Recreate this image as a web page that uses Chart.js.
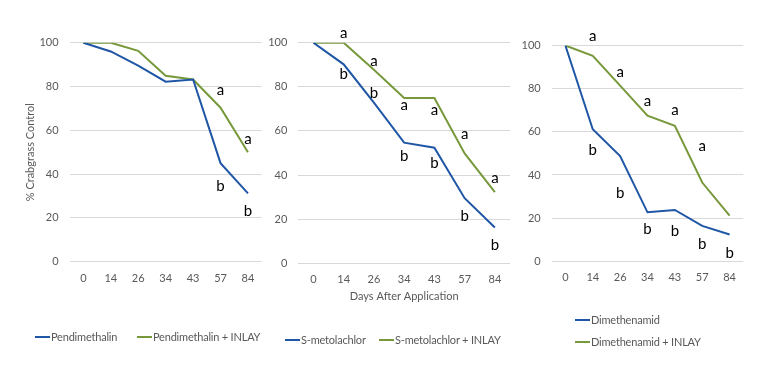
<!DOCTYPE html>
<html>
<head>
<meta charset="utf-8">
<script src="https://cdn.jsdelivr.net/npm/chart.js@4.4.1/dist/chart.umd.min.js"></script>
<style>
  html, body { margin: 0; padding: 0; background: #ffffff; }
  #wrap { position: relative; width: 768px; height: 375px; overflow: hidden; background: #fff; }
  canvas { position: absolute; top: 0; }
  .lg { position: absolute; font-family: Lato, "Noto Sans", sans-serif; font-size: 11px; letter-spacing: -0.2px; color: #595959; white-space: nowrap; display: flex; align-items: center; height: 14px; line-height: 14px; }
  .lg i { display: inline-block; width: 15px; height: 2px; margin-right: 1px; }
</style>
</head>
<body>
<div id="wrap">
  <canvas id="c1" width="265" height="375" style="left:0px;width:265px;height:375px"></canvas>
  <canvas id="c2" width="250" height="375" style="left:265px;width:250px;height:375px"></canvas>
  <canvas id="c3" width="253" height="375" style="left:515px;width:253px;height:375px"></canvas>
</div>
<script>
// ---- data ----
const days = ["0", "14", "26", "34", "43", "57", "84"];
const yTicks = [0, 20, 40, 60, 80, 100];

const pendimethalin      = [100, 96, 89.5, 82.2, 83.2, 45, 31.2];
const pendimethalinInlay = [100, 100, 96.3, 84.9, 83.2, 70.3, 50];

const sMetolachlor       = [100, 90.2, 72.8, 54.7, 52.4, 29.5, 16.2];
const sMetolachlorInlay  = [100, 100, 87.7, 74.9, 74.9, 49.8, 32.3];

const dimethenamid       = [100, 61.2, 48.8, 22.7, 23.8, 16.4, 12.4];
const dimethenamidInlay  = [100, 95.2, 81.4, 67.5, 62.8, 36.5, 21.2];

// significance letters: [category index, value position, letter]
const letters1 = [[5, 78.4, "a"], [6, 56, "a"], [5, 34.7, "b"], [6, 23.3, "b"]];
const letters2 = [[1, 104.2, "a"], [1, 85.6, "b"], [2, 91.7, "a"], [2, 77, "b"], [3, 71.8, "a"], [3, 48.6, "b"],
                  [4, 69.5, "a"], [4, 45.6, "b"], [5, 58.6, "a"], [5, 21.5, "b"], [6, 38.8, "a"], [6, 8.3, "b"]];
const letters3 = [[1, 104.2, "a"], [2, 87.6, "a"], [3, 74.2, "a"], [4, 70.2, "a"], [5, 53.2, "a"],
                  [1, 51.3, "b"], [2, 31.8, "b"], [3, 14.8, "b"], [4, 14.1, "b"], [5, 7.9, "b"], [6, 4.0, "b"]];

// ---- styles ----
const BLUE = "#1f56a5";
const GREEN = "#77993b";
const TICK = "#595959";
const GRID = "#d9d9d9";
const FONT = "Lato, 'Noto Sans', sans-serif";

const lettersPlugin = {
  id: "letters",
  afterDatasetsDraw(chart, args, opts) {
    const list = opts.items || [];
    const {ctx, scales: {x, y}} = chart;
    ctx.save();
    ctx.fillStyle = "#000";
    ctx.font = "15px " + FONT;
    ctx.textAlign = "center";
    ctx.textBaseline = "middle";
    list.forEach(([i, v, t]) => {
      ctx.fillText(t, x.getPixelForValue(i), y.getPixelForValue(v));
    });
    ctx.restore();
  }
};

function makeChart(id, labels, s1, s2, names, letters, cfg) {
  const chart = new Chart(document.getElementById(id), {
    type: "line",
    data: {
      labels: days,
      datasets: [
        { label: names[0], data: s1, borderColor: BLUE, backgroundColor: BLUE, borderWidth: 2, pointRadius: 0, tension: 0 },
        { label: names[1], data: s2, borderColor: GREEN, backgroundColor: GREEN, borderWidth: 2, pointRadius: 0, tension: 0 }
      ]
    },
    options: {
      responsive: false,
      animation: false,
      devicePixelRatio: 1,
      layout: { padding: cfg.padding },
      plugins: {
        legend: { display: false },
        tooltip: { enabled: false },
        letters: { items: letters }
      },
      scales: {
        x: {
          offset: true,
          grid: { display: false, drawTicks: false },
          border: { display: false },
          ticks: { color: TICK, font: { family: FONT, size: 11 }, padding: 10, maxRotation: 0 },
          title: cfg.xTitle ? { display: true, text: cfg.xTitle, color: TICK, font: { family: FONT, size: 11 }, padding: { top: -2, bottom: 0 } } : { display: false },
          afterFit: s => { s.height = 40; }
        },
        y: {
          min: 0, max: 100,
          afterBuildTicks: s => { s.ticks = yTicks.map(v => ({ value: v })); },
          grid: { color: GRID, lineWidth: 1, drawTicks: false },
          border: { display: false },
          ticks: { color: TICK, font: { family: FONT, size: 11 }, padding: 11 },
          title: cfg.yTitle ? { display: true, text: cfg.yTitle, color: TICK, font: { family: FONT, size: 11 }, padding: { top: 24, bottom: 0 } } : { display: false },
          afterFit: s => { s.width = cfg.yWidth; }
        }
      }
    },
    plugins: [lettersPlugin]
  });
  // HTML legend built from the chart's datasets
  const wrap = document.getElementById("wrap");
  chart.data.datasets.forEach((ds, k) => {
    const pos = cfg.legend[k];
    const d = document.createElement("div");
    d.className = "lg";
    d.style.left = pos[0] + "px";
    d.style.top = (pos[1] - 7) + "px";
    const sw = document.createElement("i");
    sw.style.background = ds.borderColor;
    d.appendChild(sw);
    d.appendChild(document.createTextNode(ds.label));
    wrap.appendChild(d);
  });
  return chart;
}

makeChart("c1", days, pendimethalin, pendimethalinInlay, ["Pendimethalin", "Pendimethalin + INLAY"], letters1, {
  padding: { left: 0, right: 3.3, top: 42.7, bottom: 73.3 },
  yWidth: 69.6, yTitle: "% Crabgrass Control",
  legend: [[35, 336.7], [137, 336.7]]
});
makeChart("c2", days, sMetolachlor, sMetolachlorInlay, ["S-metolachlor", "S-metolachlor + INLAY"], letters2, {
  padding: { left: 0, right: 5, top: 42.7, bottom: 71.7 },
  yWidth: 33.3, xTitle: "Days After Application",
  legend: [[285, 340], [379, 340]]
});
makeChart("c3", days, dimethenamid, dimethenamidInlay, ["Dimethenamid", "Dimethenamid + INLAY"], letters3, {
  padding: { left: 0, right: 24.7, top: 45.5, bottom: 73.7 },
  yWidth: 36.7,
  legend: [[575, 320], [575, 341.7]]
});
</script>
</body>
</html>
